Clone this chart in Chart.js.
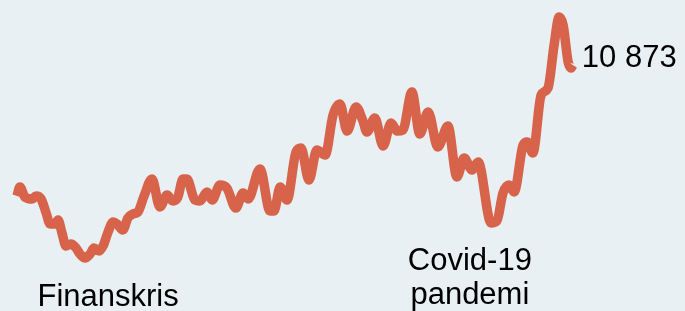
<!DOCTYPE html>
<html>
<head>
<meta charset="utf-8">
<script src="https://cdn.jsdelivr.net/npm/chart.js@4"></script>
<style>
    html, body { margin: 0; padding: 0; background: #e8f0f4; overflow: hidden; }
    canvas { display: block; }
</style>
</head>
<body>
<canvas id="chart" width="685" height="311"></canvas>
<script>
// decimal years and values
const years = [
    2007.00, 2007.08, 2007.22, 2007.42, 2007.53, 2007.67, 2007.81, 2007.92, 2008.06, 2008.14,
    2008.25, 2008.36, 2008.50, 2008.64, 2008.75, 2008.89, 2009.03, 2009.14, 2009.28, 2009.39,
    2009.53, 2009.67, 2009.78, 2009.94, 2010.08, 2010.22, 2010.36, 2010.53, 2010.75, 2010.97,
    2011.17, 2011.33, 2011.47, 2011.61, 2011.72, 2011.94, 2012.08, 2012.28, 2012.42, 2012.64,
    2012.83, 2013.08, 2013.28, 2013.42, 2013.75, 2014.03, 2014.14, 2014.31, 2014.50, 2014.75,
    2014.89, 2015.11, 2015.33, 2015.56, 2015.78, 2015.97, 2016.17, 2016.42, 2016.61, 2016.72,
    2016.94, 2017.17, 2017.39, 2017.56, 2017.72, 2017.97, 2018.19, 2018.42, 2018.69, 2018.97,
    2019.22, 2019.42, 2019.64, 2019.81, 2020.17, 2020.33, 2020.50, 2020.67, 2020.81, 2021.06,
    2021.17, 2021.33, 2021.56, 2021.75, 2021.92, 2022.06, 2022.17, 2022.31, 2022.39, 2022.44
]
const values = [
    8253, 8433, 8233, 8193, 8253, 8193, 7913, 7693, 7693, 7773,
    7513, 7253, 7293, 7213, 7093, 7013, 7093, 7213, 7153, 7253,
    7533, 7733, 7693, 7573, 7813, 7893, 7933, 8253, 8593, 8033,
    8273, 8153, 8233, 8593, 8593, 8173, 8153, 8333, 8173, 8473,
    8413, 8013, 8313, 8193, 8793, 7953, 7953, 8433, 8173, 9133,
    9213, 8573, 9173, 9073, 9873, 10093, 9553, 10033, 9753, 9533,
    9813, 9253, 9713, 9553, 9573, 10333, 9493, 9933, 9233, 9653,
    8633, 9013, 8773, 8933, 7713, 7753, 8313, 8473, 8333, 9273,
    9333, 9113, 10273, 10413, 11273, 11833, 11673, 10933, 10813, 10873
]

const events = [
    { lines: ["Finanskris"], year: 2009.53, value: 6053 },
    { lines: ["Covid-19", "pandemi"], year: 2019.58, value: 6773 }
]

const lineColor = "#d7634b"
const font = "31px 'Liberation Sans', Arial, sans-serif"

function formatNumber(v) {
    return v.toString().replace(/\B(?=(\d{3})+(?!\d))/g, " ")
}

const labelPlugin = {
    id: "labels",
    afterDatasetsDraw(chart) {
        const ctx = chart.ctx
        const x = chart.scales.x
        const y = chart.scales.y
        ctx.save()
        ctx.font = font
        ctx.fillStyle = "#000000"
        ctx.textBaseline = "alphabetic"

        // end value
        const last = values.length - 1
        ctx.textAlign = "left"
        ctx.fillText(formatNumber(values[last]), x.getPixelForValue(years[last]) + 9, y.getPixelForValue(values[last]) + 2)

        // event annotations
        ctx.textAlign = "center"
        events.forEach(function(e) {
            const px = x.getPixelForValue(e.year)
            const py = y.getPixelForValue(e.value)
            e.lines.forEach(function(line, i) {
                ctx.fillText(line, px, py + i * 34)
            })
        })
        ctx.restore()
    }
}

new Chart(document.getElementById("chart"), {
    type: "line",
    data: {
        datasets: [{
            data: years.map(function(yr, i) { return { x: yr, y: values[i] } }),
            borderColor: lineColor,
            borderWidth: 9.5,
            borderCapStyle: "butt",
            borderJoinStyle: "round",
            cubicInterpolationMode: "monotone",
            pointRadius: 0,
            fill: false,
            clip: false
        }]
    },
    options: {
        responsive: false,
        animation: false,
        devicePixelRatio: 1,
        layout: { padding: 0 },
        scales: {
            x: { type: "linear", min: 2006.528, max: 2025.556, display: false },
            y: { min: 5953, max: 12173, display: false }
        },
        plugins: {
            legend: { display: false },
            tooltip: { enabled: false }
        }
    },
    plugins: [labelPlugin]
})
</script>
</body>
</html>
